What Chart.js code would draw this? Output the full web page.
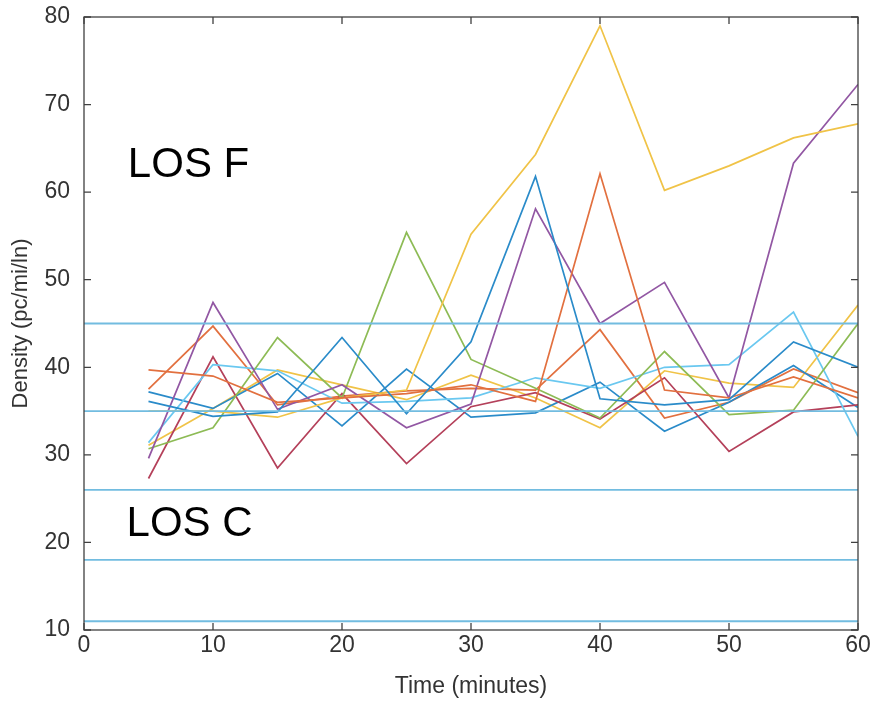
<!DOCTYPE html>
<html>
<head>
<meta charset="utf-8">
<script src="https://cdn.jsdelivr.net/npm/chart.js@4.4.1/dist/chart.umd.min.js"></script>
<style>
  html, body { margin: 0; padding: 0; background: #fff; }
  #wrap { width: 874px; height: 704px; }
</style>
</head>
<body>
<div id="wrap"><canvas id="density"></canvas></div>
<script>
    "use strict";

    // Time in minutes
    var times = [5, 10, 15, 20, 25, 30, 35, 40, 45, 50, 55, 60];

    // Density per run (pc/mi/ln)
    var blueA   = [36.1, 34.4, 34.9, 43.4, 34.7, 42.9, 61.8, 36.4, 35.7, 36.3, 42.9, 40.0];
    var orangeA = [39.7, 39.0, 36.0, 36.5, 37.0, 38.0, 36.1, 62.1, 37.4, 36.5, 38.9, 36.5];
    var yellowA = [35.0, 35.0, 34.3, 36.5, 37.4, 55.2, 64.3, 79.0, 60.2, 63.0, 66.2, 67.8];
    var purple  = [29.6, 47.4, 35.2, 38.0, 33.1, 35.8, 58.1, 45.0, 49.7, 36.5, 63.3, 72.3];
    var green   = [30.7, 33.1, 43.4, 36.5, 55.4, 40.9, 37.6, 34.2, 41.8, 34.6, 35.1, 45.0];
    var cyan    = [31.4, 40.3, 39.6, 35.9, 36.1, 36.5, 38.8, 37.6, 40.0, 40.3, 46.3, 32.1];
    var darkRed = [27.3, 41.2, 28.5, 37.0, 29.0, 35.5, 37.1, 34.1, 38.8, 30.4, 34.9, 35.7];
    var blueB   = [37.2, 35.3, 39.3, 33.3, 39.8, 34.3, 34.8, 38.3, 32.7, 36.0, 40.2, 35.4];
    var orangeB = [37.5, 44.7, 35.7, 36.7, 37.3, 37.6, 37.4, 44.3, 34.2, 36.0, 39.8, 37.1];
    var yellowB = [31.1, 35.3, 39.7, 38.0, 36.3, 39.1, 36.5, 33.1, 39.6, 38.2, 37.7, 47.1];

    // LOS threshold lines
    var losLevels = [45, 35, 26, 18, 11];
    var losLabels = [{ text: "LOS F", x: 3.4, y: 63.1 }, { text: "LOS C", x: 3.3, y: 22.0 }];

    var xTicks = [0, 10, 20, 30, 40, 50, 60];
    var yTicks = [10, 20, 30, 40, 50, 60, 70, 80];

    var series = [
        [blueA, "#2A8BC9"], [orangeA, "#E2703F"], [yellowA, "#F0C347"],
        [purple, "#9257A3"], [green, "#8DBB55"], [cyan, "#6AC8F0"],
        [darkRed, "#B4405A"], [blueB, "#2A8BC9"], [orangeB, "#E2703F"],
        [yellowB, "#F0C347"]
    ];

    function toPoints(values) {
        return values.map(function (v, i) { return { x: times[i], y: v }; });
    }

    var datasets = [];
    losLevels.forEach(function (lvl) {
        datasets.push({
            data: [{ x: 0, y: lvl }, { x: 60, y: lvl }],
            borderColor: "#72BCE0",
            borderWidth: 1.8,
            pointRadius: 0,
            tension: 0
        });
    });
    series.forEach(function (s) {
        datasets.push({
            data: toPoints(s[0]),
            borderColor: s[1],
            borderWidth: 1.7,
            pointRadius: 0,
            tension: 0
        });
    });

    // MATLAB style box with inward ticks, and the LOS labels
    var boxPlugin = {
        id: "box",
        afterDraw: function (chart) {
            var ctx = chart.ctx;
            var a = chart.chartArea;
            var xs = chart.scales.x, ys = chart.scales.y;
            ctx.save();
            ctx.strokeStyle = "#404040";
            ctx.lineWidth = 1.3;
            ctx.strokeRect(a.left, a.top, a.right - a.left, a.bottom - a.top);
            ctx.beginPath();
            xTicks.forEach(function (t) {
                var px = xs.getPixelForValue(t);
                ctx.moveTo(px, a.bottom); ctx.lineTo(px, a.bottom - 7);
                ctx.moveTo(px, a.top); ctx.lineTo(px, a.top + 7);
            });
            yTicks.forEach(function (t) {
                var py = ys.getPixelForValue(t);
                ctx.moveTo(a.left, py); ctx.lineTo(a.left + 7, py);
                ctx.moveTo(a.right, py); ctx.lineTo(a.right - 7, py);
            });
            ctx.stroke();

            ctx.fillStyle = "#000";
            ctx.font = "42px 'Liberation Sans', Arial, sans-serif";
            ctx.textBaseline = "middle";
            ctx.textAlign = "left";
            losLabels.forEach(function (l) {
                ctx.fillText(l.text, xs.getPixelForValue(l.x), ys.getPixelForValue(l.y));
            });
            ctx.restore();
        }
    };

    Chart.defaults.font.family = "'Liberation Sans', Arial, sans-serif";
    Chart.defaults.color = "#333333";

    var ctx1 = document.getElementById("density").getContext("2d");
    var densityChart = new Chart(ctx1, {
        type: "line",
        data: { datasets: datasets },
        options: {
            responsive: true,
            maintainAspectRatio: false,
            animation: false,
            layout: { padding: { top: 17, right: 16, left: 0, bottom: 0 } },
            plugins: { legend: { display: false }, tooltip: { enabled: false } },
            scales: {
                x: {
                    type: "linear",
                    min: 0, max: 60,
                    afterBuildTicks: function (s) { s.ticks = xTicks.map(function (v) { return { value: v }; }); },
                    afterFit: function (s) { s.height = 74; s.paddingLeft = 0; s.paddingRight = 0; },
                    grid: { display: false, drawTicks: false },
                    border: { display: false },
                    ticks: { font: { size: 23 }, color: "#333333", padding: 2 },
                    title: { display: true, text: "Time (minutes)", font: { size: 23 }, color: "#333333", padding: { top: 4 } }
                },
                y: {
                    type: "linear",
                    min: 10, max: 80,
                    afterBuildTicks: function (s) { s.ticks = yTicks.map(function (v) { return { value: v }; }); },
                    afterFit: function (s) { s.width = 84; s.paddingTop = 0; s.paddingBottom = 0; },
                    grid: { display: false, drawTicks: false },
                    border: { display: false },
                    ticks: { font: { size: 23 }, color: "#333333", padding: 14 },
                    title: { display: true, text: "Density (pc/mi/ln)", font: { size: 22 }, color: "#333333", padding: { top: 8, bottom: 0 } }
                }
            }
        },
        plugins: [boxPlugin]
    });
</script>
</body>
</html>
